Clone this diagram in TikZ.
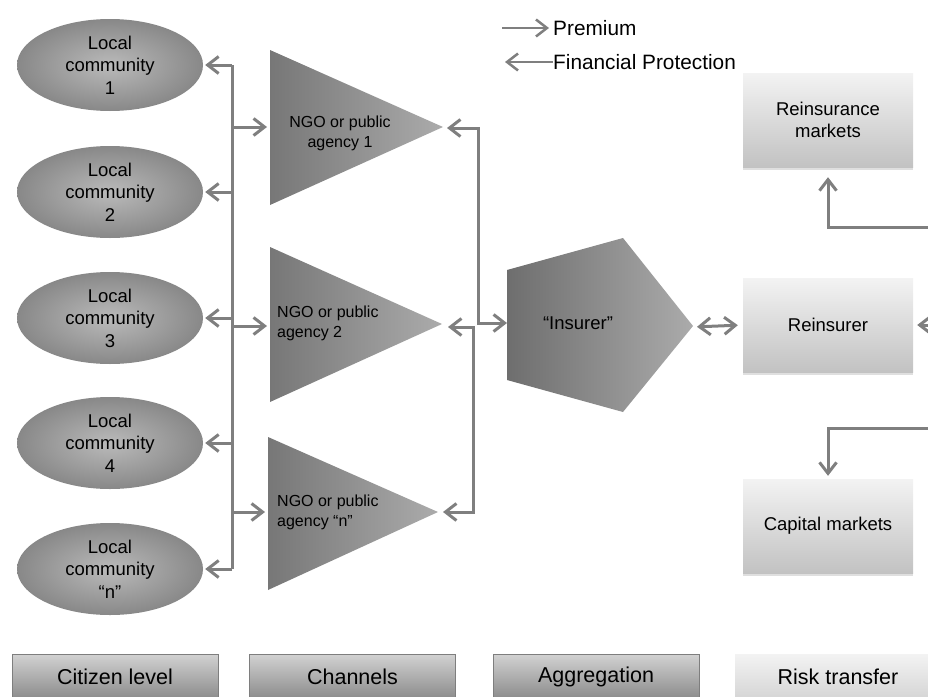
\documentclass[tikz,border=0pt]{standalone}
\usepackage{fontspec}
\setmainfont{Liberation Sans}
\usetikzlibrary{shapes.geometric,arrows.meta,calc,shadows}
\definecolor{conncol}{HTML}{7F7F7F}
\definecolor{ellin}{HTML}{BABABA}
\definecolor{ellout}{HTML}{888888}
\definecolor{trileft}{HTML}{777777}
\definecolor{triright}{HTML}{ABABAB}
\definecolor{penleft}{HTML}{6E6E6E}
\definecolor{penright}{HTML}{ABABAB}
\definecolor{boxtop}{HTML}{F3F3F3}
\definecolor{boxbot}{HTML}{C2C2C2}
\definecolor{lvltop}{HTML}{D2D2D2}
\definecolor{lvlbot}{HTML}{898989}
\definecolor{lvlline}{HTML}{7E7E7E}
\definecolor{rtbot}{HTML}{D4D4D4}
\begin{document}
\begin{tikzpicture}[x=1pt,y=-1pt,
  conn/.style={draw=conncol,line width=3pt},
  >={Straight Barb[length=11pt,width=17pt]},
  mainfont/.style={font=\fontsize{18.5}{22.5}\selectfont},
  comm/.style={ellipse,minimum width=186pt,minimum height=92pt,inner sep=0pt,
    inner color=ellin,outer color=ellout,align=center,mainfont},
  tritext/.style={font=\fontsize{16}{20}\selectfont,inner sep=0pt},
  rbox/.style={rectangle,minimum width=170pt,minimum height=94pt,inner sep=0pt,
    top color=boxtop,bottom color=boxbot,align=center,mainfont,
    drop shadow={shadow xshift=0pt,shadow yshift=-3pt,opacity=0.25}},
  lvlbox/.style={rectangle,minimum width=206pt,minimum height=46pt,inner sep=0pt,
    top color=lvltop,bottom color=lvlbot,draw=lvlline,line width=0.8pt,
    font=\fontsize{21.5}{24}\selectfont},
  legtext/.style={anchor=west,inner sep=0pt,font=\fontsize{20.8}{24}\selectfont}
]
\useasboundingbox (0,0) rectangle (928,696);
\clip (0,0) rectangle (928,696);

% Legend
\node[legtext] (prem) at (553,28) {Premium};
\node[legtext] (fin) at (553,62) {Financial Protection};
\draw[conn,line width=2.5pt,->,shorten >=4pt] ($(prem.west)+(-51,0)$) -- (prem.west);
\draw[conn,line width=2.5pt,<-,shorten <=5pt] ($(fin.west)+(-53,0)$) -- (fin.west);

% Local communities
\node[comm] (e1) at (110,65)  {Local\\community\\1};
\node[comm] (e2) at (110,192) {Local\\community\\2};
\node[comm] (e3) at (110,318) {Local\\community\\3};
\node[comm] (e4) at (110,443) {Local\\community\\4};
\node[comm] (en) at (110,569) {Local\\community\\“n”};

% Channels (triangles)
\shade[left color=trileft,right color=triright] (270,50) -- (443,127) -- (270,205) -- cycle;
\shade[left color=trileft,right color=triright] (270,247) -- (442,324) -- (270,402) -- cycle;
\shade[left color=trileft,right color=triright] (268,437) -- (438,512) -- (268,590) -- cycle;
\node[tritext,align=center] (t1) at (340,133) {NGO or public\\agency 1};
\node[tritext,align=left,anchor=west] (t2) at (277,323) {NGO or public\\agency 2};
\node[tritext,align=left,anchor=west] (tn) at (277,512) {NGO or public\\agency “n”};
\coordinate (t1w) at (270,127);
\coordinate (t2w) at (270,326);
\coordinate (tnw) at (268,512);
\coordinate (t1a) at (443,128);
\coordinate (t2a) at (442,327);
\coordinate (tna) at (438,512);

% Aggregation (pentagon)
\shade[left color=penleft,right color=penright]
  (507,270) -- (623,238) -- (693,326) -- (623,412) -- (507,380) -- cycle;
\node[mainfont,inner sep=0pt] (ins) at (578,323) {“Insurer”};
\coordinate (insw) at (507,323);
\coordinate (inse) at (693,327);

% Risk transfer boxes
\node[rbox] (rm)   at (828,120) {Reinsurance\\markets};
\node[rbox] (rein) at (828,325) {Reinsurer};
\node[rbox] (cap)  at (828,526) {Capital markets};

% Level labels
\node[lvlbox] (l1) at (115,677) {Citizen level};
\node[lvlbox] (l2) at (352.5,677) {Channels};
\node[lvlbox] (l3) at (596,677) {Aggregation};
\node[lvlbox,top color=boxtop,bottom color=rtbot,draw=none] (l4) at (838,677) {Risk transfer};

% Left bus
\coordinate (lbx) at (232,0);
\draw[conn] (e1.east -| lbx) -- (en.east -| lbx);
\foreach \e in {e1,e2,e3,e4,en}
  \draw[conn,->,shorten >=2pt] (\e.east -| lbx) -- (\e.east);
\foreach \t in {t1w,t2w,tnw}
  \draw[conn,->,shorten >=3pt] (\t -| lbx) -- (\t);

% Right of channels
\coordinate (rbA) at (478,0);
\coordinate (rbB) at (473,0);
\draw[conn,<->,shorten <=4pt] (t1a) -- (t1a -| rbA) -- (insw -| rbA) -- (insw);
\draw[conn,<->,shorten <=6pt,shorten >=5pt] (t2a) -- (t2a -| rbB) -- (tna -| rbB) -- (tna);

% Insurer <-> Reinsurer
\draw[conn,<->,shorten <=4pt,shorten >=5pt] (inse) -- (rein.west);

% Right edge connectors
\coordinate (rx) at (945,0);
\coordinate (ru) at (828,227);
\coordinate (rd) at (828,428);
\draw[conn,->,shorten >=10pt] (ru -| rx) -- (ru) -- (rm.south);
\draw[conn,->,shorten >=3pt] (rd -| rx) -- (rd) -- (cap.north);
\draw[conn,->,shorten >=4pt] (rein.east -| rx) -- (rein.east);
\end{tikzpicture}
\end{document}
